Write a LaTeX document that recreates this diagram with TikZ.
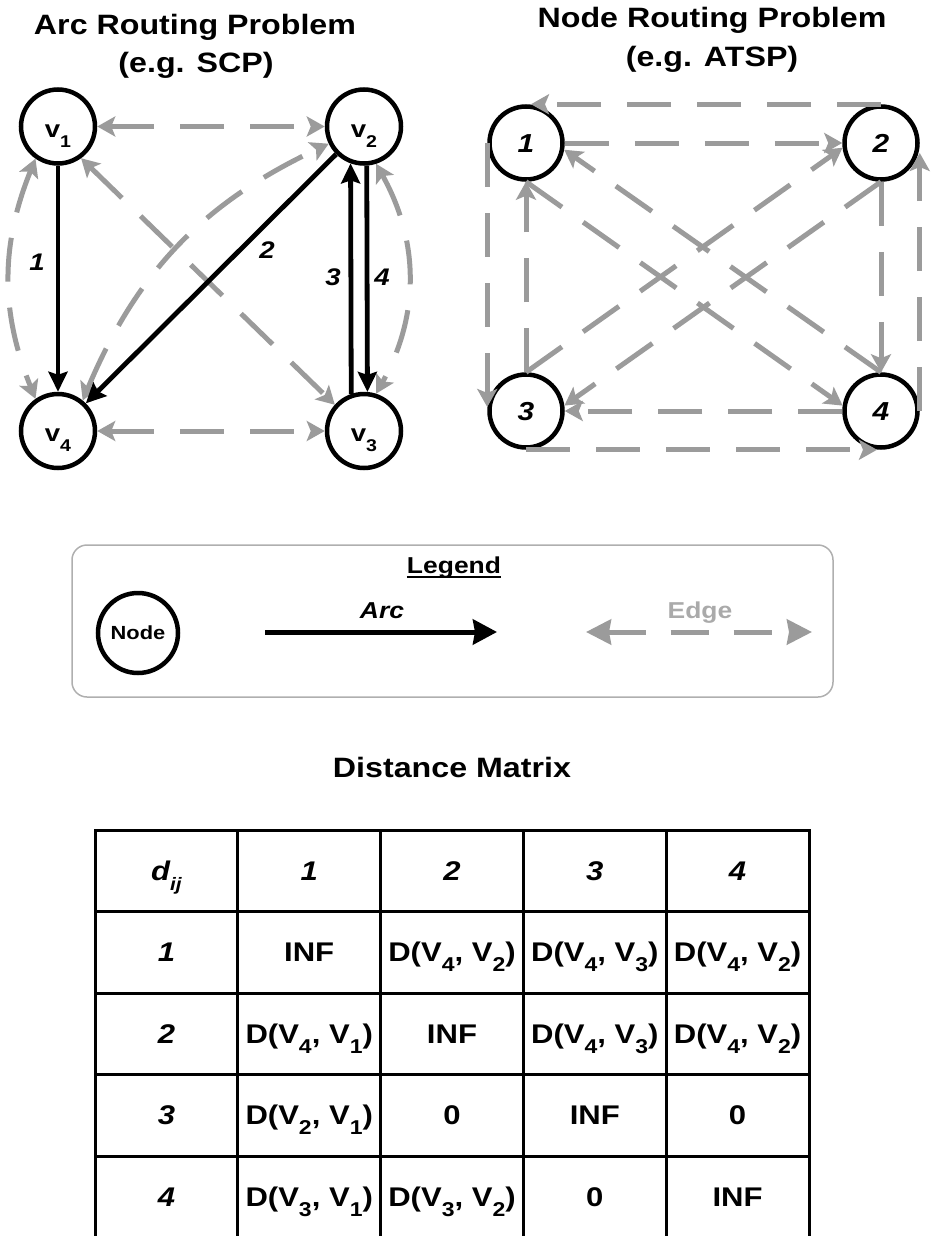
\documentclass[tikz,border=0pt]{standalone}
\usepackage{fontspec}
\setmainfont{Liberation Sans}[FakeStretch=1.15]
\usetikzlibrary{arrows.meta}
\definecolor{edgegray}{RGB}{155,155,155}
\definecolor{boxgray}{RGB}{175,175,175}
\definecolor{edgetext}{RGB}{170,170,170}
\newcommand{\sbs}[2]{\raisebox{-10pt}{\fontsize{#1}{#1}\selectfont #2}}
\newcommand{\DV}[2]{D(V\sbs{20}{#1}, V\sbs{20}{#2})}
\tikzset{
  gtip/.tip={Stealth[length=18pt,width=20pt,inset=4pt]},
  btip/.tip={Stealth[length=20pt,width=19pt,inset=3pt]},
  ltipb/.tip={Stealth[length=24pt,width=25pt,inset=2pt]},
  ltipg/.tip={Stealth[length=25pt,width=25pt,inset=2pt]},
  gedge/.style={draw=edgegray,line width=5pt,dash pattern=on 44pt off 26pt},
  barc/.style={draw=black,line width=4.8pt},
  vnode/.style={circle,draw,line width=4.5pt,minimum size=74pt,inner sep=0pt,
    font=\fontsize{24}{24}\selectfont\bfseries,text height=21pt,text depth=0pt},
  rnode/.style={circle,draw,line width=4.5pt,minimum size=73pt,inner sep=0pt,
    font=\fontsize{26}{26}\selectfont\bfseries\itshape,text height=18.6pt,text depth=0pt},
  elabel/.style={font=\fontsize{24}{24}\selectfont\bfseries\itshape,inner sep=0pt},
  ttl/.style={font=\fontsize{28}{28}\selectfont\bfseries,anchor=base,inner sep=0pt},
  tcell/.style={font=\fontsize{27}{27}\selectfont\bfseries,anchor=base,inner sep=0pt},
  hcell/.style={font=\fontsize{27}{27}\selectfont\bfseries\itshape,anchor=base,inner sep=0pt},
  tline/.style={line width=3pt,black},
}
\begin{document}
\begin{tikzpicture}[x=1pt,y=-1pt]
\useasboundingbox (0,0) rectangle (931,1236);

% ---------- titles ----------
\node[ttl] (t1a) at (195,35) {Arc Routing Problem};
\node[ttl] (t1b) at (196,73) {(e.g. SCP)};
\node[ttl] (t2a) at (712,28) {Node Routing Problem};
\node[ttl] (t2b) at (712,67) {(e.g. ATSP)};

% ---------- arc routing graph ----------
\node[vnode] (v1) at (58,126.5) {v\sbs{17}{1}};
\node[vnode] (v2) at (364,126.5) {v\sbs{17}{2}};
\node[vnode] (v4) at (58,431) {v\sbs{17}{4}};
\node[vnode] (v3) at (364,431) {v\sbs{17}{3}};

\draw[gedge,gtip-gtip] (v1) -- (v2);
\draw[gedge,gtip-gtip] (v4) -- (v3);
\draw[gedge,gtip-gtip] (v1.-54) -- (v3.138);
\draw[gedge,gtip-gtip] (v4.51) to[bend left=21] (v2.206);
\draw[gedge,gtip-gtip] (v1.235) to[bend right=22] (v4.125);
\draw[gedge,gtip-gtip] (v2.-72) to[bend left=29] (v3.72);

\draw[barc,-btip] (v1.south) -- (v4.north);
\draw[barc,-btip] (v2) -- (v4);
\draw[barc,-btip] (v3.109.5) -- (v2.250.5);
\draw[barc,-btip] (v2.274.5) -- (v3.85.5);

\node[elabel] (l1) at (37,262) {1};
\node[elabel] (l2) at (267,250) {2};
\node[elabel] (l3) at (333,277) {3};
\node[elabel] (l4) at (382,277) {4};

% ---------- node routing graph ----------
\node[rnode] (n1) at (526,143) {1};
\node[rnode] (n2) at (881,143) {2};
\node[rnode] (n3) at (526,411) {3};
\node[rnode] (n4) at (881,411) {4};

\draw[gedge,-gtip,shorten >=5pt] (n2.north) -- (n1.north);
\draw[gedge,-gtip,shorten >=4pt] (n1.west) -- (n3.west);
\draw[gedge,-gtip,shorten >=4pt] (n3.south) -- (n4.south);
\draw[gedge,-gtip,shorten >=10pt] (n4.east) -- (n2.east);
\draw[gedge,-gtip] (n1.east) -- (n2.west);
\draw[gedge,-gtip] (n3.north) -- (n1.south);
\draw[gedge,-gtip] (n2.south) -- (n4.north);
\draw[gedge,-gtip] (n4.west) -- (n3.east);
\draw[gedge,-gtip] (n1.south) -- (n4.172);
\draw[gedge,-gtip] (n4.north) -- (n1.-10);
\draw[gedge,-gtip] (n2.south) -- (n3.8);
\draw[gedge,-gtip] (n3.north) -- (n2.187);

% ---------- legend ----------
\node[draw=boxgray,line width=1.5pt,rounded corners=15pt,minimum width=761pt,
      minimum height=152pt,inner sep=0pt] (legbox) at (452.5,621) {};
\node[font=\fontsize{23}{23}\selectfont\bfseries,anchor=base,inner sep=0pt] (leg) at (454,573) {Legend};
\draw[line width=1.8pt] ([yshift=-4pt]leg.base west) -- ([yshift=-4pt]leg.base east);
\node[circle,draw,line width=4.5pt,minimum size=80pt,inner sep=0pt,
      font=\fontsize{19}{19}\selectfont\bfseries,text height=13.6pt,text depth=0pt] (lnode) at (138,633) {Node};
\coordinate (a1) at (265,632);
\coordinate (a2) at (497,632);
\draw[barc,line width=5pt,-ltipb] (a1) -- (a2);
\node[font=\fontsize{23}{23}\selectfont\bfseries\itshape,anchor=base,inner sep=0pt] (larc) at (382,618) {Arc};
\coordinate (e1) at (586,632);
\coordinate (e2) at (812,632);
\draw[draw=edgegray,line width=5pt,dash pattern=on 38pt off 25pt,ltipg-ltipg] (e1) -- (e2);
\node[font=\fontsize{23}{23}\selectfont\bfseries,text=edgetext,anchor=base,inner sep=0pt] (ledge) at (700,618) {Edge};

% ---------- distance matrix ----------
\node[ttl] (dm) at (452,777) {Distance Matrix};

\draw[tline] (95,1236) -- (95,830) -- (809,830) -- (809,1236);
\foreach \x in {237.8,380.6,523.4,666.2} \draw[tline] (\x,830) -- (\x,1236);
\foreach \y in {911.5,993,1074.5,1156} \draw[tline] (95,\y) -- (809,\y);

% header row
\node[hcell] (c00) at (166.4,880) {d\sbs{18}{ij}};
\node[hcell] (c01) at (309.2,880) {1};
\node[hcell] (c02) at (452,880) {2};
\node[hcell] (c03) at (594.8,880) {3};
\node[hcell] (c04) at (737.6,880) {4};
% row 1
\node[hcell] (c10) at (166.4,961.5) {1};
\node[tcell] (c11) at (309.2,961.5) {INF};
\node[tcell] (c12) at (452,961.5) {\DV{4}{2}};
\node[tcell] (c13) at (594.8,961.5) {\DV{4}{3}};
\node[tcell] (c14) at (737.6,961.5) {\DV{4}{2}};
% row 2
\node[hcell] (c20) at (166.4,1043) {2};
\node[tcell] (c21) at (309.2,1043) {\DV{4}{1}};
\node[tcell] (c22) at (452,1043) {INF};
\node[tcell] (c23) at (594.8,1043) {\DV{4}{3}};
\node[tcell] (c24) at (737.6,1043) {\DV{4}{2}};
% row 3
\node[hcell] (c30) at (166.4,1124.5) {3};
\node[tcell] (c31) at (309.2,1124.5) {\DV{2}{1}};
\node[tcell] (c32) at (452,1124.5) {0};
\node[tcell] (c33) at (594.8,1124.5) {INF};
\node[tcell] (c34) at (737.6,1124.5) {0};
% row 4
\node[hcell] (c40) at (166.4,1206) {4};
\node[tcell] (c41) at (309.2,1206) {\DV{3}{1}};
\node[tcell] (c42) at (452,1206) {\DV{3}{2}};
\node[tcell] (c43) at (594.8,1206) {0};
\node[tcell] (c44) at (737.6,1206) {INF};
\end{tikzpicture}
\end{document}
